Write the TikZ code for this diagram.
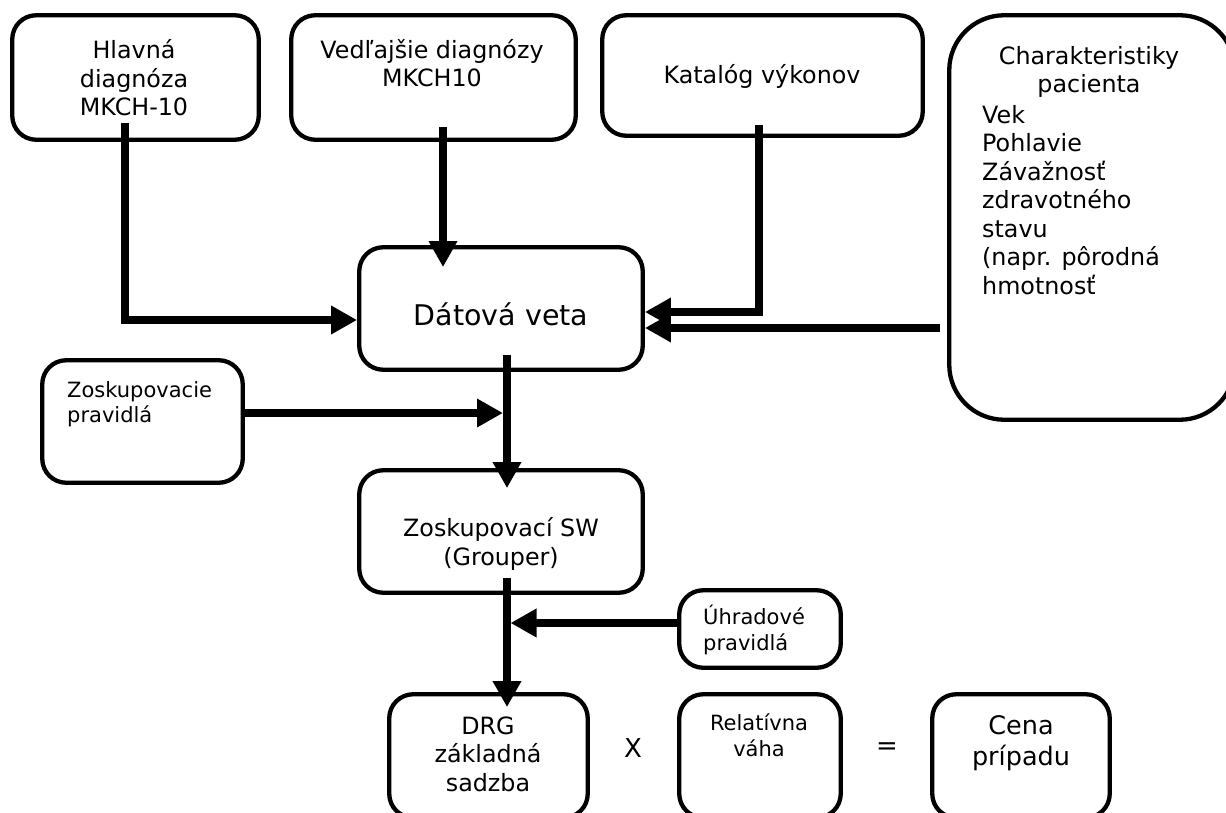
\documentclass[tikz,border=0pt]{standalone}
\usepackage{fontspec}
\setmainfont{DejaVu Sans}
\usetikzlibrary{arrows.meta}

\tikzset{
  box/.style={draw, black, line width=4.3pt, rounded corners=24pt, inner sep=0pt},
  txt/.style={inner sep=0pt, align=center, font=\fontsize{23.8}{28.5}\selectfont},
  small/.style={inner sep=0pt, align=left, font=\fontsize{21}{25.5}\selectfont},
  flow/.style={line width=7.5pt, -{Triangle[length=26pt,width=27pt]}},
}

\begin{document}
\begin{tikzpicture}[x=1pt, y=-1pt]
\useasboundingbox (0,0) rectangle (1226,813);
\clip (0,0) rectangle (1226,813);

% boxes
\draw
(135.5,77.5) node[box, minimum width=246.5pt, minimum height=124.5pt](hlavna){}
(433.5,77.5) node[box, minimum width=284.5pt, minimum height=124.5pt](vedl){}
(762.5,75.5) node[box, minimum width=320.5pt, minimum height=120.5pt](katalog){}
(1092,217.5) node[box, rounded corners=55pt, minimum width=285.5pt, minimum height=404.5pt](pacient){}
(501,308.5) node[box, minimum width=283.5pt, minimum height=122.5pt](datova){}
(142.5,421.5) node[box, minimum width=200.5pt, minimum height=122.5pt](zpravidla){}
(501,531.5) node[box, minimum width=283.5pt, minimum height=122.5pt](grouper){}
(760,629) node[box, minimum width=161.5pt, minimum height=77.5pt](uhrada){}
(488.5,756) node[box, minimum width=198.5pt, minimum height=123.5pt](drg){}
(760,756) node[box, minimum width=161.5pt, minimum height=123.5pt](vaha){}
(1021,756) node[box, minimum width=177.5pt, minimum height=123.5pt](cena){};

% texts
\path
(134,78) node[txt](hlavnaT){Hlavná\\diagnóza\\MKCH-10}
(432,63) node[txt](vedlT){Vedľajšie diagnózy\\MKCH10}
(762,76) node[txt](katalogT){Katalóg výkonov}
(1089,72) node[txt](pacientT){Charakteristiky\\pacienta}
(982,200) node[txt, anchor=west, align=left](pacientL){Vek\\Pohlavie\\Závažnosť\\zdravotného\\stavu\\(napr. pôrodná\\hmotnosť}
(501,314) node[txt, font=\fontsize{28.5}{34}\selectfont](datovaT){Dátová veta}
(67,404) node[small, anchor=west](zpravidlaT){Zoskupovacie\\pravidlá}
(501,544) node[txt](grouperT){Zoskupovací SW\\(Grouper)}
(703,630) node[small, anchor=west](uhradaT){Úhradové\\pravidlá}
(488,754) node[txt](drgT){DRG\\základná\\sadzba}
(633,748) node[txt, font=\fontsize{26}{31}\selectfont](kratT){X}
(759,735) node[small, align=center](vahaT){Relatívna\\váha}
(887,749) node[txt, font=\fontsize{26}{31}\selectfont](rovnaT){=}
(1021,743) node[txt, font=\fontsize{25.5}{30.5}\selectfont](cenaT){Cena\\prípadu};

% arrows
\draw[flow] ([xshift=-10.5pt,yshift=19pt]hlavna.south) |- ([yshift=-11.5pt]datova.west);
\draw[flow] ([xshift=9.5pt,yshift=15pt]vedl.south) -- ([xshift=-58pt,yshift=-22pt]datova.north);
\draw[flow] ([xshift=-3.5pt,yshift=13pt]katalog.south) |- ([yshift=-3.5pt]datova.east);
\draw[flow] ([xshift=-7pt,yshift=-110.5pt]pacient.west) -- ([yshift=-19.5pt]datova.east);
\draw[flow] ([xshift=6pt,yshift=17pt]datova.south) -- ([xshift=6pt,yshift=-20pt]grouper.north);
\draw[flow] ([yshift=8.5pt]zpravidla.east) -- ([xshift=2pt,yshift=-41.1pt]datova.south);
\draw[flow] ([xshift=6pt,yshift=17pt]grouper.south) -- ([xshift=18.5pt,yshift=-15pt]drg.north);
\draw[flow] ([yshift=6pt]uhrada.west) -- ([xshift=9.5pt,yshift=-28.1pt]grouper.south);

\end{tikzpicture}
\end{document}
